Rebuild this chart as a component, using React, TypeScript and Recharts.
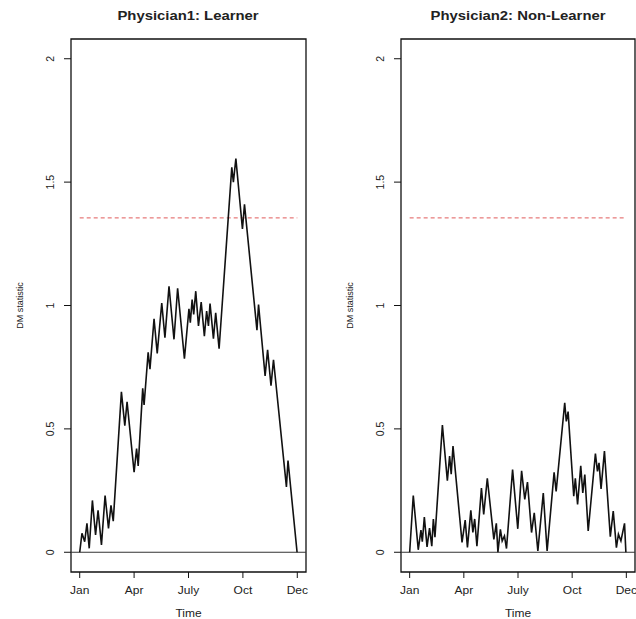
import { LineChart, Line, XAxis, YAxis, ReferenceLine, ReferenceArea, Label } from 'recharts'

const TICK_POS = [0, 12, 24, 36, 48]
const TICK_LABELS = ['Jan', 'Apr', 'July', 'Oct', 'Dec']
const Y_TICKS = [0, 0.5, 1, 1.5, 2]
const THRESHOLD = 1.355

const learnerT = [0, 0.5, 1.1, 1.6, 2.1, 2.8, 3.5, 4.05, 4.8, 5.6, 6.35, 6.9, 7.4, 9.2, 9.95, 10.45, 12.0, 12.55, 12.9, 13.9, 14.2, 15.1, 15.5, 16.4, 17.1, 18.1, 18.8, 19.7, 20.8, 21.6, 23.1, 24.1, 24.4, 24.8, 25.15, 25.6, 26.2, 26.8, 27.5, 28.0, 28.4, 28.75, 29.5, 30.0, 30.75, 33.55, 33.9, 34.45, 35.9, 36.35, 39.1, 39.45, 40.9, 41.45, 42.2, 42.75, 45.6, 45.95, 47.95]
const learnerY = [0, 0.077, 0.043, 0.117, 0.016, 0.21, 0.07, 0.17, 0.03, 0.23, 0.097, 0.19, 0.126, 0.65, 0.513, 0.61, 0.325, 0.42, 0.35, 0.664, 0.597, 0.81, 0.742, 0.946, 0.806, 1.01, 0.87, 1.078, 0.863, 1.07, 0.785, 0.987, 0.93, 1.024, 0.964, 1.058, 0.917, 1.014, 0.876, 0.977, 0.917, 1.008, 0.866, 0.97, 0.825, 1.56, 1.5, 1.595, 1.31, 1.41, 0.9, 1.004, 0.715, 0.82, 0.675, 0.78, 0.265, 0.372, 0]

const nonLearnerT = [0, 0.8, 1.9, 2.5, 2.8, 3.25, 3.85, 4.4, 4.9, 5.25, 5.6, 7.25, 8.35, 8.85, 9.2, 9.6, 11.6, 12.3, 12.8, 13.55, 14.0, 14.4, 14.9, 15.9, 16.4, 17.2, 18.65, 19.2, 19.55, 20.1, 20.5, 21.0, 21.45, 22.8, 23.95, 24.8, 25.5, 26.1, 27.0, 27.6, 28.4, 29.6, 30.45, 32.0, 32.45, 34.35, 34.7, 35.1, 36.35, 36.7, 37.2, 37.9, 38.35, 38.8, 39.55, 41.15, 41.6, 41.95, 42.4, 43.15, 44.45, 45.1, 45.8, 46.25, 46.8, 47.6, 47.9]
const nonLearnerY = [0, 0.23, 0.01, 0.09, 0.043, 0.143, 0.022, 0.098, 0.025, 0.135, 0.061, 0.515, 0.29, 0.39, 0.316, 0.43, 0.04, 0.13, 0.02, 0.17, 0.08, 0.135, 0.025, 0.26, 0.153, 0.3, 0.052, 0.117, 0, 0.093, 0.046, 0.066, 0.015, 0.335, 0.095, 0.33, 0.214, 0.284, 0.08, 0.16, 0.005, 0.24, 0.005, 0.324, 0.247, 0.606, 0.53, 0.57, 0.227, 0.3, 0.194, 0.35, 0.24, 0.315, 0.086, 0.4, 0.328, 0.362, 0.257, 0.41, 0.063, 0.167, 0.019, 0.073, 0.046, 0.117, 0]

const FONT = '"Liberation Sans", Arial, Helvetica, sans-serif'
const X_DOMAIN: [number, number] = [-1.92, 49.92]
const Y_DOMAIN: [number, number] = [-0.08, 2.08]

function XTick(p: any) {
  const i = TICK_POS.indexOf(p.payload.value)
  return (
    <text transform={`translate(${p.x},${p.y + 14}) scale(1.2,1)`} textAnchor="middle" fontSize={10} fontFamily={FONT} fill="#222">
      {TICK_LABELS[i]}
    </text>
  )
}

function YTick(p: any) {
  return (
    <text transform={`translate(${p.x - 8},${p.y}) rotate(-90)`} textAnchor="middle" fontSize={10.5} fontFamily={FONT} fill="#222">
      {String(p.payload.value)}
    </text>
  )
}

function Panel({ t, y, width, right }: { t: number[]; y: number[]; width: number; right: number }) {
  const data = t.map((v, i) => ({ t: v, dm: y[i] }))
  return (
    <LineChart width={width} height={619} data={data} margin={{ top: 39, right, bottom: 0, left: 0 }}>
      <XAxis dataKey="t" type="number" domain={X_DOMAIN} ticks={TICK_POS} height={47} axisLine={false}
        tickSize={6} tickLine={{ stroke: '#111' }} tick={<XTick />} interval={0} allowDataOverflow>
        <Label content={(p: any) => (
          <text transform={`translate(${p.viewBox.x + p.viewBox.width / 2},${p.viewBox.y + 45}) scale(1.2,1)`}
            textAnchor="middle" fontSize={10} fontFamily={FONT} fill="#222">Time</text>
        )} />
      </XAxis>
      <YAxis type="number" domain={Y_DOMAIN} ticks={Y_TICKS} width={71} axisLine={false}
        tickSize={7} tickLine={{ stroke: '#111' }} tick={<YTick />} interval={0} allowDataOverflow>
        <Label content={(p: any) => (
          <text transform={`translate(${p.viewBox.x + p.viewBox.width - 48},${p.viewBox.y + p.viewBox.height / 2}) rotate(-90)`}
            textAnchor="middle" fontSize={9} fontFamily={FONT} fill="#222">DM statistic</text>
        )} />
      </YAxis>
      <ReferenceArea x1={X_DOMAIN[0]} x2={X_DOMAIN[1]} y1={Y_DOMAIN[0]} y2={Y_DOMAIN[1]} fill="none" stroke="#111" strokeWidth={1.3} ifOverflow="visible" />
      <ReferenceLine y={0} stroke="#333" strokeWidth={1.2} />
      <ReferenceLine segment={[{ x: 0, y: THRESHOLD }, { x: 48, y: THRESHOLD }]} stroke="#e05a5a" strokeWidth={1} strokeDasharray="4 3" />
      <Line type="linear" dataKey="dm" stroke="#111" strokeWidth={1.6} dot={false} isAnimationActive={false} />
    </LineChart>
  )
}

export default function App() {
  return (
    <div style={{ position: 'absolute', left: 0, top: 0, width: 636, height: 619, overflow: 'hidden', background: '#fff' }}>
      <div style={{ position: 'absolute', left: 0, top: 0 }}>
        <Panel t={learnerT} y={learnerY} width={318} right={12} />
      </div>
      <div style={{ position: 'absolute', left: 330, top: 0 }}>
        <Panel t={nonLearnerT} y={nonLearnerY} width={306} right={1} />
      </div>
      <svg width={636} height={30} style={{ position: 'absolute', left: 0, top: 0 }}>
        <text transform="translate(188,20) scale(1.19,1)" textAnchor="middle" fontSize={12.5} fontWeight="bold" fontFamily={FONT} fill="#222">Physician1: Learner</text>
        <text transform="translate(518,20) scale(1.19,1)" textAnchor="middle" fontSize={12.5} fontWeight="bold" fontFamily={FONT} fill="#222">Physician2: Non-Learner</text>
      </svg>
    </div>
  )
}
